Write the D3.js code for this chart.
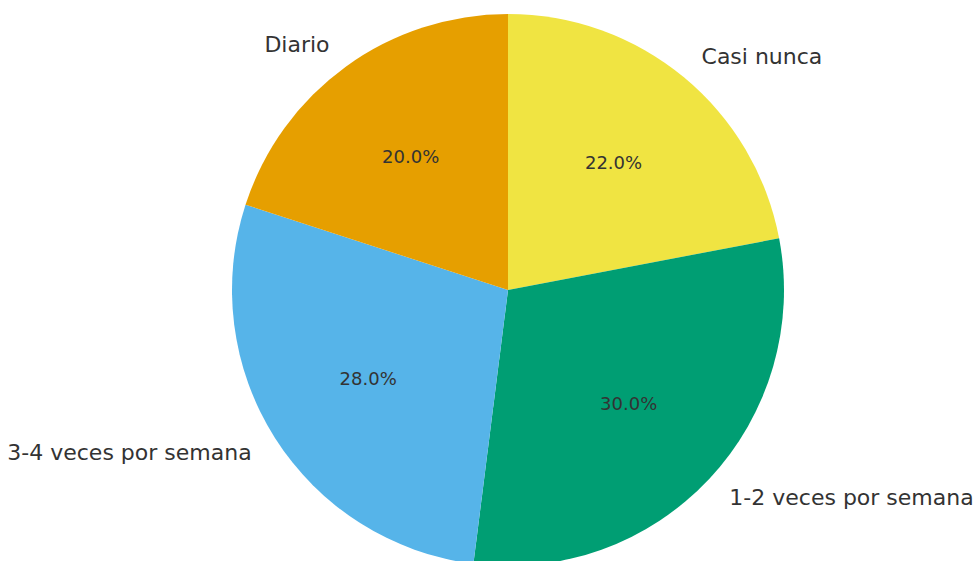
<!DOCTYPE html>
<html>
<head>
<meta charset="utf-8">
<script src="https://cdn.jsdelivr.net/npm/d3@7"></script>
<style>
  html, body { margin: 0; padding: 0; background: #fff; }
  svg { display: block; }
</style>
</head>
<body>
<svg id="chart" width="977" height="561"></svg>
<script>
const categories = ["Casi nunca", "1-2 veces por semana", "3-4 veces por semana", "Diario"];
const values = [22, 30, 28, 20];
const colors = ["#F0E442", "#009E73", "#56B4E9", "#E69F00"];

const width = 977, height = 561;
const cx = 508, cy = 290, r = 276;

const svg = d3.select("#chart");
const g = svg.append("g").attr("transform", `translate(${cx},${cy})`);

const data = categories.map((c, i) => ({ name: c, value: values[i], color: colors[i] }));
const total = d3.sum(values);

const pie = d3.pie().value(d => d.value).sort(null);
const arcs = pie(data);
const arc = d3.arc().innerRadius(0).outerRadius(r);

g.selectAll("path.slice")
  .data(arcs)
  .join("path")
  .attr("class", "slice")
  .attr("d", arc)
  .attr("fill", d => d.data.color);

function pos(d, f) {
  const a = (d.startAngle + d.endAngle) / 2;
  return [f * r * Math.sin(a), -f * r * Math.cos(a)];
}

g.selectAll("text.lbl")
  .data(arcs)
  .join("text")
  .attr("class", "lbl")
  .attr("x", d => pos(d, 1.1)[0])
  .attr("y", d => pos(d, 1.1)[1])
  .attr("text-anchor", d => pos(d, 1.1)[0] >= 0 ? "start" : "end")
  .attr("dominant-baseline", "central")
  .attr("font-family", "DejaVu Sans")
  .attr("font-size", 22)
  .attr("fill", "#333333")
  .text(d => d.data.name);

g.selectAll("text.pct")
  .data(arcs)
  .join("text")
  .attr("class", "pct")
  .attr("x", d => pos(d, 0.6)[0])
  .attr("y", d => pos(d, 0.6)[1])
  .attr("text-anchor", "middle")
  .attr("dominant-baseline", "central")
  .attr("font-family", "DejaVu Sans")
  .attr("font-size", 18)
  .attr("fill", "#333333")
  .text(d => (d.data.value / total * 100).toFixed(1) + "%");
</script>
</body>
</html>
